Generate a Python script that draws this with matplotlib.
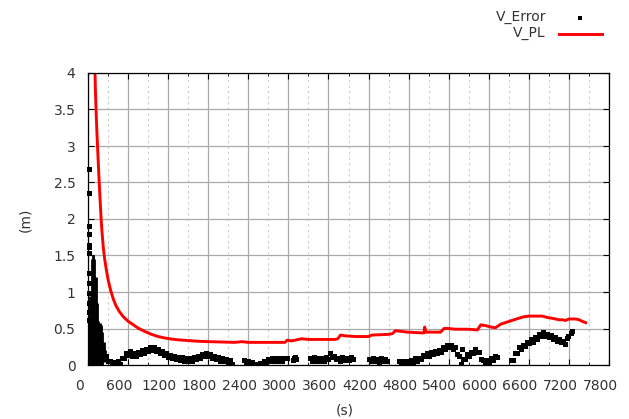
import matplotlib
matplotlib.use("Agg")
import matplotlib.pyplot as plt
import matplotlib.transforms as mtransforms
from matplotlib.lines import Line2D
from matplotlib.ticker import MultipleLocator, FuncFormatter
import numpy as np

# protection level curve (t [s], value [m])
pl_t = [100, 110, 120, 135, 150, 165, 180, 195, 210, 230, 250, 275, 305, 340, 380,
        420, 470, 530, 600, 680, 760, 850, 950, 1050, 1150, 1250, 1350, 1500, 1650,
        1800, 2000, 2200, 2300, 2400, 2500, 2600, 2700, 2800, 2950, 2980, 3050, 3150,
        3200, 3300, 3500, 3700, 3740, 3780, 3850, 4000, 4200, 4250, 4500, 4560, 4600,
        4700, 4780, 5000, 5030, 5040, 5060, 5280, 5330, 5400, 5500, 5700, 5830, 5880,
        5950, 6030, 6100, 6180, 6280, 6380, 6450, 6520, 6600, 6700, 6800, 6880, 6950,
        7050, 7100, 7150, 7200, 7300, 7350, 7420, 7450]
pl_v = [4.20, 3.80, 3.50, 3.15, 2.85, 2.55, 2.28, 2.02, 1.82, 1.60, 1.45, 1.30, 1.15,
        1.02, 0.90, 0.81, 0.73, 0.66, 0.60, 0.55, 0.50, 0.46, 0.42, 0.39, 0.37, 0.355,
        0.345, 0.335, 0.325, 0.32, 0.315, 0.31, 0.32, 0.31, 0.31, 0.31, 0.31, 0.31,
        0.31, 0.34, 0.33, 0.35, 0.36, 0.35, 0.35, 0.35, 0.36, 0.41, 0.40, 0.39, 0.39,
        0.41, 0.42, 0.43, 0.47, 0.46, 0.45, 0.44, 0.44, 0.52, 0.45, 0.45, 0.50, 0.50,
        0.49, 0.49, 0.48, 0.55, 0.54, 0.52, 0.51, 0.56, 0.59, 0.62, 0.64, 0.66, 0.67,
        0.67, 0.67, 0.65, 0.64, 0.62, 0.62, 0.61, 0.63, 0.63, 0.62, 0.59, 0.58]

# error during convergence: very first samples
early_t = [8, 8, 8, 8, 8, 8, 8, 10, 10, 10, 10, 10, 10]
early_v = [2.69, 2.36, 1.90, 1.79, 1.65, 1.62, 1.53, 1.26, 1.12, 0.98, 0.85, 0.73, 0.62]

# dense oscillating part right after start: min / max per time bin
spike_t = [15, 35, 55, 75, 95, 115, 135, 155, 175, 195, 215, 235, 255]
spike_lo = [0.0, 0.0, 0.0, 0.0, 0.0, 0.0, 0.03, 0.0, 0.0, 0.02, 0.0, 0.04, 0.05]
spike_hi = [0.62, 0.95, 1.45, 1.51, 1.45, 1.20, 0.85, 0.60, 0.57, 0.55, 0.45, 0.32, 0.20]

# error segments, sampled every 30 s from the given start time
step = 30
seg_a_start = 270
seg_a = [0.12, 0.05, 0.06, 0.01, 0.04, 0.00, 0.05, 0.02, 0.10, 0.10, 0.17, 0.14, 0.19,
         0.13, 0.16, 0.13, 0.18, 0.15, 0.20, 0.17, 0.22, 0.19, 0.24, 0.20, 0.24, 0.19,
         0.22, 0.17, 0.19, 0.14, 0.16, 0.11, 0.14, 0.09, 0.12, 0.08, 0.11, 0.07, 0.11,
         0.06, 0.10, 0.06, 0.10, 0.06, 0.11, 0.08, 0.13, 0.10, 0.15, 0.12, 0.16, 0.12,
         0.15, 0.10, 0.13, 0.08, 0.11, 0.06, 0.09, 0.05, 0.08, 0.04, 0.07, 0.02]
seg_b_start = 2340
seg_b = [0.07, 0.02, 0.05, 0.01, 0.04, 0.00, 0.02, 0.00, 0.03, 0.00, 0.06, 0.03, 0.08,
         0.05, 0.09, 0.05, 0.09, 0.06, 0.10, 0.06, 0.09]
seg_c_start = 3330
seg_c = [0.10, 0.06, 0.11, 0.06, 0.10, 0.06, 0.09, 0.06, 0.11, 0.08, 0.16, 0.11, 0.12,
         0.08, 0.10, 0.06, 0.11, 0.07, 0.10, 0.07, 0.11, 0.08]
seg_d_start = 4200
seg_d = [0.08, 0.05, 0.09, 0.05, 0.08, 0.04, 0.09, 0.05, 0.08, 0.06]
seg_e_start = 4650
seg_e = [0.06, 0.02, 0.06, 0.03, 0.06, 0.03, 0.07, 0.04, 0.09, 0.05, 0.10, 0.08, 0.14,
         0.12, 0.16, 0.13, 0.18, 0.15, 0.19, 0.16, 0.21, 0.18, 0.24, 0.22, 0.28, 0.25,
         0.28, 0.22, 0.24, 0.15, 0.12, 0.02, 0.08, 0.08, 0.15, 0.13, 0.18, 0.16, 0.22,
         0.18, 0.18, 0.08, 0.07, 0.02, 0.07, 0.04, 0.09, 0.07, 0.13, 0.11]
seg_f_start = 6330
seg_f = [0.07, 0.07, 0.17, 0.17, 0.24, 0.22, 0.28, 0.26, 0.32, 0.30, 0.36, 0.32, 0.38,
         0.36, 0.42, 0.40, 0.45, 0.40, 0.43, 0.38, 0.41, 0.36, 0.39, 0.33, 0.36, 0.31,
         0.33, 0.29]

# isolated samples between segments
iso_t = [2985, 3075, 3090, 3105, 3120, 5600, 7165, 7185, 7225, 7240]
iso_v = [0.10, 0.07, 0.10, 0.11, 0.08, 0.22, 0.37, 0.40, 0.44, 0.47]

segments = [(seg_a_start, seg_a), (seg_b_start, seg_b), (seg_c_start, seg_c),
            (seg_d_start, seg_d), (seg_e_start, seg_e), (seg_f_start, seg_f)]
err_t = list(iso_t)
err_v = list(iso_v)
for start, vals in segments:
    err_t += list(start + step * np.arange(len(vals)))
    err_v += vals

text_col = '#333333'
plt.rcParams['font.family'] = 'DejaVu Sans'
plt.rcParams['font.size'] = 10

fig, ax = plt.subplots(figsize=(6.29, 4.19), dpi=100)
fig.subplots_adjust(left=88/629, right=609/629, top=1-73/419, bottom=1-365/419)

ax.set_axisbelow(True)
ax.vlines(spike_t, spike_lo, spike_hi, color='black', lw=2.0)
ax.plot(err_t, err_v, ls='none', marker='s', ms=3.6, color='black', mew=0)
ax.plot(early_t, early_v, ls='none', marker='s', ms=3.6, color='black', mew=0,
        clip_on=False)
ax.plot(pl_t, pl_v, color='#ff0000', lw=2.1)

ax.set_xlim(0, 7800)
ax.set_ylim(0, 4)
ax.set_xticks(np.arange(0, 7801, 600))
ax.xaxis.set_minor_locator(MultipleLocator(300))
ax.set_yticks(np.arange(0, 4.01, 0.5))
ax.yaxis.set_major_formatter(FuncFormatter(lambda v, p: '%g' % v))

ax.grid(which='major', color='#a9a9a9', lw=0.9, ls='-')
ax.grid(which='minor', axis='x', color='#cccccc', lw=0.8, ls=(0, (2, 3)))

ax.tick_params(which='major', direction='in', top=True, right=True, length=4,
               width=0.8, labelcolor=text_col)
ax.tick_params(axis='x', which='major', pad=10)
ax.tick_params(axis='y', which='major', pad=9)
ax.tick_params(which='minor', direction='in', top=True, length=2, width=0.6)
for s in ax.spines.values():
    s.set_linewidth(0.9)

# x labels sit a little to the left of their ticks
shift = mtransforms.ScaledTranslation(-0.09, 0, fig.dpi_scale_trans)
for lab in ax.get_xticklabels():
    lab.set_transform(lab.get_transform() + shift)

fig.text(345/629, 1-410/419, '(s)', ha='center', va='center', color=text_col)
fig.text(25/629, 1-220/419, '(m)', ha='center', va='center', rotation=90,
         color=text_col)

# key in the top right corner
fig.text(546/629, 1-17/419, 'V_Error', ha='right', va='center', color=text_col)
fig.text(546/629, 1-33/419, 'V_PL', ha='right', va='center', color=text_col)
fig.add_artist(Line2D([580/629], [1-18/419], marker='s', ms=3, color='black',
                      mew=0, transform=fig.transFigure))
fig.add_artist(Line2D([559/629, 602/629], [1-34/419, 1-34/419], color='#ff0000',
                      lw=2.1, transform=fig.transFigure))

fig.savefig('out.png', dpi=100)
